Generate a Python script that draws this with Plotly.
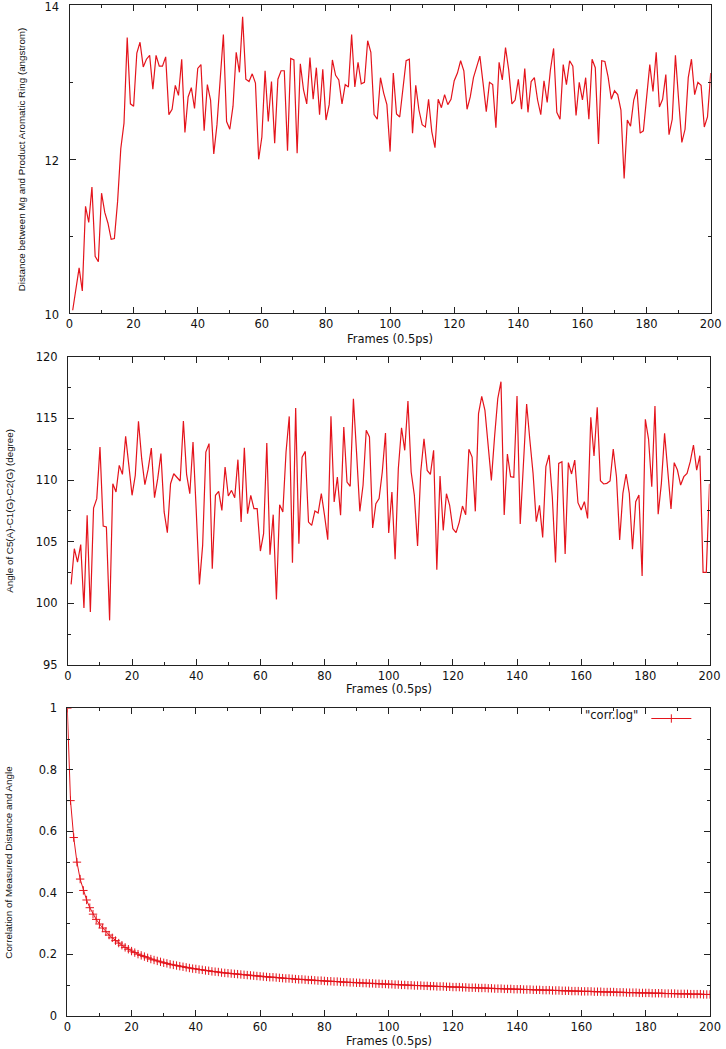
import plotly.graph_objects as go

# ---------------- data ----------------
frames = list(range(1, 201))

distance = [
    10.04, 10.32, 10.59, 10.29, 11.39, 11.18, 11.64, 10.74, 10.67, 11.56,
    11.31, 11.17, 10.96, 10.97, 11.45, 12.14, 12.47, 13.58, 12.72, 12.69,
    13.38, 13.52, 13.20, 13.30, 13.35, 12.91, 13.35, 13.21, 13.21, 13.33,
    12.58, 12.65, 12.96, 12.83, 13.30, 12.35, 12.81, 12.93, 12.66, 13.18,
    13.23, 12.37, 12.97, 12.77, 12.07, 12.45, 13.10, 13.62, 12.49, 12.39,
    12.69, 13.39, 13.13, 13.85, 13.04, 13.01, 13.11, 12.99, 12.00, 12.29,
    13.15, 12.49, 13.01, 12.21, 13.04, 13.15, 13.15, 12.11, 13.31, 13.29,
    12.08, 13.24, 12.90, 12.72, 13.32, 12.78, 13.19, 12.58, 13.17, 12.51,
    12.71, 13.29, 13.09, 13.03, 12.72, 12.97, 12.94, 13.62, 12.94, 13.26,
    12.98, 13.00, 13.54, 13.39, 12.58, 12.52, 13.06, 12.86, 12.71, 12.10,
    13.12, 12.59, 12.55, 12.92, 13.28, 13.30, 12.34, 12.96, 12.64, 12.45,
    12.42, 12.78, 12.36, 12.15, 12.78, 12.67, 12.84, 12.71, 12.78, 13.02,
    13.12, 13.28, 13.15, 12.65, 12.81, 13.06, 13.20, 13.34, 12.99, 12.62,
    13.00, 12.97, 12.41, 13.26, 13.03, 13.45, 13.16, 12.72, 12.77, 13.04,
    12.65, 13.18, 12.61, 13.01, 13.06, 12.77, 12.58, 13.02, 12.74, 13.16,
    13.44, 12.61, 12.52, 13.23, 12.97, 13.28, 13.21, 12.57, 13.00, 12.77,
    13.06, 12.52, 13.30, 13.19, 12.20, 13.28, 13.27, 13.07, 12.78, 12.89,
    12.84, 12.64, 11.75, 12.51, 12.43, 12.77, 12.91, 12.34, 12.37, 12.77,
    13.23, 12.88, 13.39, 12.68, 12.78, 13.10, 12.32, 12.52, 13.35, 12.77,
    12.22, 12.39, 13.06, 13.30, 12.84, 13.00, 12.96, 12.42, 12.55, 13.12,
]

angle = [
    101.54, 104.43, 103.35, 104.76, 99.62, 107.14, 99.30, 107.73, 108.49, 112.68,
    106.27, 106.19, 98.62, 109.70, 109.03, 111.19, 110.46, 113.54, 111.19, 108.76,
    110.38, 114.76, 111.73, 109.62, 110.86, 112.59, 108.57, 110.11, 112.14, 107.41,
    105.73, 109.70, 110.51, 110.24, 109.92, 114.78, 110.46, 108.89, 113.08, 107.54,
    101.54, 104.70, 112.27, 112.95, 102.81, 108.76, 109.08, 107.54, 111.05, 108.70,
    109.16, 108.57, 111.65, 106.59, 112.62, 107.27, 108.76, 107.68, 107.68, 104.24,
    105.65, 113.00, 103.95, 107.19, 100.32, 108.00, 107.41, 112.27, 115.16, 103.30,
    115.84, 104.84, 111.86, 112.32, 106.59, 106.32, 107.49, 107.32, 108.89, 107.14,
    105.16, 115.16, 108.22, 110.24, 107.14, 114.30, 109.84, 109.49, 116.59, 112.14,
    107.46, 109.57, 114.03, 113.49, 106.11, 108.08, 108.49, 110.65, 113.81, 105.70,
    109.03, 103.57, 110.92, 114.24, 112.41, 116.40, 110.65, 108.76, 104.65, 110.70,
    113.35, 110.78, 110.46, 112.41, 102.73, 110.32, 105.92, 108.89, 107.95, 106.05,
    105.73, 106.59, 107.89, 107.19, 112.49, 111.86, 107.46, 115.38, 116.78, 115.65,
    112.81, 109.97, 113.50, 116.60, 117.97, 107.16, 112.11, 110.27, 110.22, 116.81,
    106.43, 111.76, 116.16, 113.24, 110.54, 106.62, 107.95, 105.35, 111.08, 112.03,
    108.65, 103.32, 111.35, 111.49, 104.00, 111.41, 110.49, 111.62, 108.16, 107.57,
    108.24, 106.89, 115.08, 111.95, 115.89, 109.95, 109.68, 109.73, 109.92, 112.51,
    110.27, 105.14, 108.92, 110.49, 108.92, 104.38, 108.24, 108.78, 102.22, 114.92,
    113.32, 109.46, 116.00, 107.22, 109.73, 113.78, 110.68, 107.65, 111.41, 110.81,
    109.59, 110.27, 110.54, 111.49, 112.84, 110.80, 111.97, 102.51, 102.51, 109.70,
]

corr_frames = list(range(0, 201))
corr = [
    1.000, 0.700, 0.580, 0.500, 0.445, 0.408, 0.377, 0.352, 0.331, 0.314,
    0.299, 0.286, 0.274, 0.263, 0.254, 0.245, 0.237, 0.230, 0.223, 0.217,
    0.211, 0.206, 0.201, 0.197, 0.193, 0.189, 0.185, 0.182, 0.179, 0.176,
    0.173, 0.171, 0.168, 0.166, 0.164, 0.162, 0.160, 0.158, 0.156, 0.154,
    0.153, 0.151, 0.150, 0.148, 0.147, 0.145, 0.144, 0.143, 0.141, 0.140,
    0.139, 0.138, 0.137, 0.136, 0.135, 0.134, 0.133, 0.132, 0.131, 0.130,
    0.129, 0.128, 0.127, 0.126, 0.126, 0.125, 0.124, 0.123, 0.122, 0.122,
    0.121, 0.120, 0.119, 0.119, 0.118, 0.117, 0.117, 0.116, 0.115, 0.115,
    0.114, 0.113, 0.113, 0.112, 0.112, 0.111, 0.110, 0.110, 0.109, 0.109,
    0.108, 0.108, 0.107, 0.107, 0.106, 0.106, 0.105, 0.105, 0.104, 0.104,
    0.103, 0.103, 0.102, 0.102, 0.101, 0.101, 0.100, 0.100, 0.099, 0.099,
    0.099, 0.098, 0.098, 0.097, 0.097, 0.096, 0.096, 0.096, 0.095, 0.095,
    0.094, 0.094, 0.094, 0.093, 0.093, 0.092, 0.092, 0.092, 0.091, 0.091,
    0.091, 0.090, 0.090, 0.089, 0.089, 0.089, 0.088, 0.088, 0.088, 0.087,
    0.087, 0.087, 0.086, 0.086, 0.086, 0.085, 0.085, 0.085, 0.084, 0.084,
    0.084, 0.083, 0.083, 0.083, 0.082, 0.082, 0.082, 0.081, 0.081, 0.081,
    0.080, 0.080, 0.080, 0.080, 0.079, 0.079, 0.079, 0.078, 0.078, 0.078,
    0.078, 0.077, 0.077, 0.077, 0.076, 0.076, 0.076, 0.076, 0.075, 0.075,
    0.075, 0.075, 0.074, 0.074, 0.074, 0.074, 0.073, 0.073, 0.073, 0.073,
    0.072, 0.072, 0.072, 0.072, 0.071, 0.071, 0.071, 0.071, 0.070, 0.070,
    0.070,
]

x_title = "Frames (0.5ps)"
y_titles = [
    "Distance between Mg and Product Aromatic Ring (angstrom)",
    "Angle of C5(A)-C1(G)-C2(G) (degree)",
    "Correlation of Measured Distance and Angle",
]
legend_label = '"corr.log"'

# ---------------- styling ----------------
W, H = 726, 1049
RED = "rgb(228,20,28)"
AXC = "#222222"
TICKFONT = dict(family="DejaVu Sans, Verdana, sans-serif", size=11.5, color="#111111")
YTFONT = dict(family="Liberation Sans, Arial, Helvetica, sans-serif", size=9.8, color="#111111")


def px_x(p):
    return p / W


def px_y(p):
    return 1 - p / H


panels = [
    # (left, right, top, bottom) in pixels
    (69.5, 710.7, 5.3, 313.3),
    (67.9, 709.5, 356.7, 665.0),
    (67.3, 710.0, 708.3, 1016.0),
]
yranges = [[10, 14], [95, 120], [0, 1]]
ydticks = [2, 5, 0.2]
yminor = [1, 2.5, 0.1]
ytick0 = [10, 95, 0]
ylabel_shift = [2, 0, 0]


def base_axis():
    return dict(
        ticks="inside", ticklen=6, tickwidth=1, tickcolor=AXC,
        showline=True, linecolor=AXC, linewidth=1, mirror="allticks",
        showgrid=False, zeroline=False, tickfont=TICKFONT, automargin=False,
        ticklabeloverflow="allow",
    )


fig = go.Figure()
fig.add_trace(go.Scatter(x=frames, y=distance, mode="lines",
                         line=dict(color=RED, width=1.2), showlegend=False,
                         xaxis="x", yaxis="y"))
fig.add_trace(go.Scatter(x=frames, y=angle, mode="lines",
                         line=dict(color=RED, width=1.2), showlegend=False,
                         xaxis="x2", yaxis="y2"))
fig.add_trace(go.Scatter(x=corr_frames, y=corr, mode="lines+markers", name="",
                         line=dict(color=RED, width=1),
                         marker=dict(symbol="cross-thin", size=6,
                                     line=dict(color=RED, width=1), color=RED),
                         showlegend=True, xaxis="x3", yaxis="y3"))

layout = dict(
    width=W, height=H, autosize=False,
    margin=dict(l=0, r=0, t=0, b=0, pad=0, autoexpand=False),
    paper_bgcolor="white", plot_bgcolor="white",
    showlegend=True,
    legend=dict(
        x=px_x(702), y=px_y(704), xanchor="right", yanchor="top",
        bgcolor="rgba(0,0,0,0)", borderwidth=0,
        font=TICKFONT,
        title=dict(text=legend_label, side="left", font=TICKFONT),
        itemwidth=40,
    ),
    annotations=[],
)

ytitle_x = [21, 10, 8.5]
xtitle_y = [339, 689, 1041]
for i, (l, r, t, b) in enumerate(panels):
    sfx = "" if i == 0 else str(i + 1)
    xa = base_axis()
    xa.update(domain=[px_x(l), px_x(r)], anchor="y" + sfx, range=[0, 200],
              tick0=0, dtick=20,
              minor=dict(dtick=10, ticks="inside", ticklen=3, tickcolor=AXC, showgrid=False))
    ya = base_axis()
    ya.update(domain=[px_y(b), px_y(t)], anchor="x" + sfx, range=yranges[i],
              tick0=ytick0[i], dtick=ydticks[i], ticklabelstandoff=7,
              ticklabelshift=ylabel_shift[i],
              minor=dict(dtick=yminor[i], ticks="inside", ticklen=3, tickcolor=AXC, showgrid=False))
    layout["xaxis" + sfx] = xa
    layout["yaxis" + sfx] = ya
    layout["annotations"].append(dict(
        text=y_titles[i], textangle=-90, showarrow=False,
        xref="paper", yref="paper", x=px_x(ytitle_x[i]), y=px_y((t + b) / 2),
        xanchor="center", yanchor="middle", font=YTFONT))
    layout["annotations"].append(dict(
        text=x_title, showarrow=False,
        xref="paper", yref="paper", x=px_x((l + r) / 2), y=px_y(xtitle_y[i]),
        xanchor="center", yanchor="middle", font=TICKFONT))

fig.update_layout(**layout)
fig.write_html(
    "out.html",
    config={"displayModeBar": False},
    post_script="document.body.style.margin='0';document.body.style.padding='0';"
                "document.body.style.overflow='hidden';",
)
